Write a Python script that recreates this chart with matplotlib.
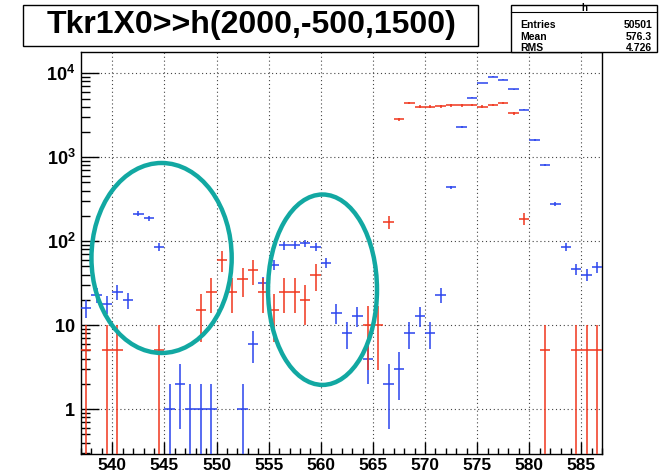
import numpy as np
import matplotlib
matplotlib.use('Agg')
import matplotlib.pyplot as plt
from matplotlib.patches import Ellipse, Rectangle
from matplotlib.lines import Line2D
from matplotlib.ticker import MultipleLocator, FixedLocator, FuncFormatter, LogLocator

plt.rcParams['font.family'] = ['Liberation Sans', 'DejaVu Sans']
plt.rcParams['mathtext.fontset'] = 'custom'
plt.rcParams['mathtext.rm'] = 'Liberation Sans'
plt.rcParams['mathtext.bf'] = 'Liberation Sans:bold'

# histogram bins: 1 unit wide, first edge at 537
bin_lo = 537
n_bins = 50

blue_counts = [16, 23, 18, 25, 20, 213, 187, 85, 1, 2,
               1, 1, 1, 0, 0, 1, 6, 32, 52, 89,
               90, 94, 86, 55, 14, 8, 13, 4, 0, 2,
               3, 8, 13, 8, 23, 437, 2300, 5120, 7650, 9090,
               8380, 6440, 3690, 1620, 806, 280, 85, 46, 40, 49]

red_counts = [5, 0, 5, 5, 0, 0, 0, 5, 0, 0,
              0, 15, 25, 60, 25, 35, 45, 25, 15, 25,
              25, 20, 40, 0, 0, 0, 0, 10, 10, 170,
              2850, 4450, 4000, 4000, 4050, 4150, 4150, 4200, 4000, 4200,
              4450, 3350, 185, 0, 5, 0, 0, 5, 5, 5]
red_weight = 5  # each red entry carries weight 5

title = 'Tkr1X0>>h(2000,-500,1500)'
stats_name = 'h'
stats_rows = [('Entries', '50501'), ('Mean', '576.3'), ('RMS', '4.726')]

blue_col = '#2a44ee'
red_col = '#f0361c'
teal = '#12a8a2'


def draw_hist(ax, counts, err, color):
    x = bin_lo + 0.5 + np.arange(n_bins)
    y = np.array(counts, dtype=float)
    m = y > 0
    lo = np.where(y - err <= 0, y - 1e-3, err)
    ax.errorbar(x[m], y[m], xerr=0.5, yerr=[lo[m], err[m]], fmt='none',
                ecolor=color, elinewidth=1.1, capsize=0, zorder=3)


fig = plt.figure(figsize=(6.6, 4.76), dpi=100)
ax = fig.add_axes([0.1227, 0.0462, 0.7899, 0.8439])
ax.set_yscale('log')

b = np.array(blue_counts, dtype=float)
r = np.array(red_counts, dtype=float)
draw_hist(ax, blue_counts, np.sqrt(b), blue_col)
draw_hist(ax, red_counts, np.sqrt(red_weight * r), red_col)

ax.set_xlim(537, 587)
ax.set_ylim(0.292, 17750)

ax.xaxis.set_major_locator(MultipleLocator(5))
ax.xaxis.set_minor_locator(MultipleLocator(1))
ax.yaxis.set_major_locator(FixedLocator([1, 10, 100, 1000, 10000]))
ax.yaxis.set_minor_locator(LogLocator(base=10, subs=np.arange(2, 10)))


def yfmt(v, pos):
    e = int(round(np.log10(v)))
    if e <= 0:
        return r'$\mathbf{1}$'
    if e == 1:
        return r'$\mathbf{10}$'
    return r'$\mathbf{10^{%d}}$' % e


ax.yaxis.set_major_formatter(FuncFormatter(yfmt))
ax.tick_params(axis='both', which='both', direction='in', top=False, right=False,
               colors='black', width=1)
ax.tick_params(axis='x', which='major', length=9, pad=3, labelsize=12.5)
ax.tick_params(axis='x', which='minor', length=4.5)
ax.tick_params(axis='y', which='major', length=13, pad=4, labelsize=13)
ax.tick_params(axis='y', which='minor', length=6.5)
for lab in ax.get_xticklabels():
    lab.set_fontweight('bold')

ax.grid(True, which='major', color='#444444', linestyle=(0, (1, 2.5)), linewidth=0.8)
ax.set_axisbelow(False)
for s in ax.spines.values():
    s.set_linewidth(1)
    s.set_color('black')

# hand-drawn highlight ellipses
ax.add_patch(Ellipse((0.1546, 0.488), 0.269, 0.473, transform=ax.transAxes,
                     fill=False, edgecolor=teal, linewidth=3.2, zorder=5, clip_on=False))
ax.add_patch(Ellipse((0.4633, 0.409), 0.209, 0.474, transform=ax.transAxes,
                     fill=False, edgecolor=teal, linewidth=3.2, zorder=5, clip_on=False))

# title box
fig.add_artist(Rectangle((0.0344, 0.904), 0.6894, 0.0855, transform=fig.transFigure,
                         facecolor='white', edgecolor='black', linewidth=1, zorder=5))
fig.text(0.381, 0.9467, title, ha='center', va='center', fontsize=23,
         fontweight='bold', zorder=6)

# stats box
fig.add_artist(Rectangle((0.7742, 0.8908), 0.2212, 0.0987, transform=fig.transFigure,
                         facecolor='white', edgecolor='black', linewidth=1, zorder=5))
fig.add_artist(Line2D([0.7742, 0.9954], [0.9748, 0.9748], transform=fig.transFigure,
                      color='black', linewidth=0.8, zorder=6))
fig.text(0.8848, 0.983, stats_name, ha='center', va='center', fontsize=7,
         fontweight='bold', zorder=6)
row_y = [25, 37.5, 48]
for (lab, val), py in zip(stats_rows, row_y):
    fig.text(520 / 660, 1 - py / 476, lab, ha='left', va='center', fontsize=7.5,
             fontweight='bold', zorder=6)
    fig.text(652 / 660, 1 - py / 476, val, ha='right', va='center', fontsize=7.5,
             fontweight='bold', zorder=6)

fig.savefig('out.png', dpi=100)
